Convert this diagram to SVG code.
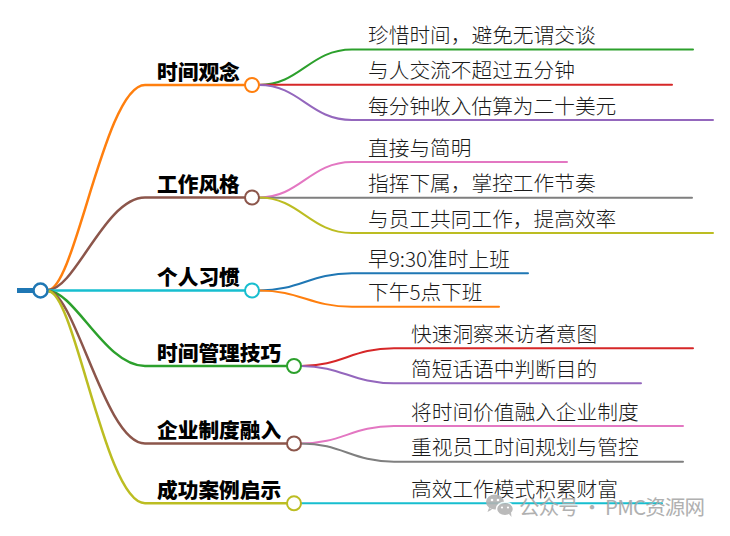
<svg xmlns="http://www.w3.org/2000/svg" width="730" height="536" viewBox="0 0 730 536">
<style>
  .bg { fill: #ffffff; }
  .conn { fill: none; stroke-linecap: round; }
  .main { stroke-width: 2.5; }
  .sub { stroke-width: 2; }
  .node { fill: #ffffff; stroke-width: 2; }
  .cat { font-family: "Noto Sans CJK SC", "Noto Sans", sans-serif; font-size: 20.7px; font-weight: 900; fill: #000000; }
  .leaf { font-family: "Noto Sans CJK SC", "Noto Sans", sans-serif; font-size: 20.7px; font-weight: 300; fill: #1a1a1a; }
  .wm { font-family: "Noto Sans CJK SC", "Noto Sans", sans-serif; font-size: 20.5px; fill: #a8a8a8; }
</style>
<rect class="bg" x="0" y="0" width="730" height="536"/>

<g id="connectors">
  <path class="conn main" stroke="#ff7f0e" d="M48,290 C75,290 105,85 145,85 H252"/>
  <path class="conn main" stroke="#8c564b" d="M48,290 C75,290 105,197.5 145,197.5 H252"/>
  <path class="conn main" stroke="#17becf" d="M48,290.5 H252"/>
  <path class="conn main" stroke="#2ca02c" d="M48,291 C75,291 105,366 145,366 H294"/>
  <path class="conn main" stroke="#8c564b" d="M48,291 C75,291 105,443.5 145,443.5 H294"/>
  <path class="conn main" stroke="#bcbd22" d="M48,291 C75,291 105,503.3 145,503.3 H294"/>

  <path class="conn sub" stroke="#2ca02c" d="M259,85 C300,85 310,49.5 352,49.5 H693"/>
  <path class="conn sub" stroke="#d62728" d="M259,84.7 H672"/>
  <path class="conn sub" stroke="#9467bd" d="M259,85 C300,85 310,120 352,120 H713"/>

  <path class="conn sub" stroke="#e377c2" d="M259,197.5 C300,197.5 310,162 352,162 H567"/>
  <path class="conn sub" stroke="#7f7f7f" d="M259,197.8 H692"/>
  <path class="conn sub" stroke="#bcbd22" d="M259,197.5 C300,197.5 310,233 352,233 H713"/>

  <path class="conn sub" stroke="#1f77b4" d="M259,290.5 C300,290.5 310,273.3 352,273.3 H528"/>
  <path class="conn sub" stroke="#ff7f0e" d="M259,290.5 C300,290.5 310,306.7 352,306.7 H499"/>

  <path class="conn sub" stroke="#d62728" d="M301,366 C342,366 352,348.3 394,348.3 H693"/>
  <path class="conn sub" stroke="#9467bd" d="M301,366 C342,366 352,383.3 394,383.3 H641"/>

  <path class="conn sub" stroke="#e377c2" d="M301,443.5 C342,443.5 352,426 394,426 H683"/>
  <path class="conn sub" stroke="#7f7f7f" d="M301,443.5 C342,443.5 352,461.7 394,461.7 H683"/>

  <path class="conn sub" stroke="#17becf" d="M301,503.3 H662"/>
</g>

<g id="root">
  <line x1="17" y1="290.5" x2="33" y2="290.5" stroke="#1f77b4" stroke-width="5"/>
  <circle cx="40.5" cy="290.5" r="7" fill="#ffffff" stroke="#1f77b4" stroke-width="2.5"/>
</g>

<g id="cat-shijianguannian">
  <text class="cat" x="157" y="79.5">时间观念</text>
  <circle class="node" cx="252" cy="85" r="7" stroke="#ff7f0e"/>
</g>
<g id="cat-gongzuofengge">
  <text class="cat" x="157" y="192">工作风格</text>
  <circle class="node" cx="252" cy="197.5" r="7" stroke="#8c564b"/>
</g>
<g id="cat-gerenxiguan">
  <text class="cat" x="157" y="285">个人习惯</text>
  <circle class="node" cx="252" cy="290.5" r="7" stroke="#17becf"/>
</g>
<g id="cat-shijianguanlijiqiao">
  <text class="cat" x="157" y="360.5">时间管理技巧</text>
  <circle class="node" cx="294" cy="366" r="7" stroke="#2ca02c"/>
</g>
<g id="cat-qiyezhidurongru">
  <text class="cat" x="157" y="438">企业制度融入</text>
  <circle class="node" cx="294" cy="443.5" r="7" stroke="#8c564b"/>
</g>
<g id="cat-chenggonganli">
  <text class="cat" x="157" y="498">成功案例启示</text>
  <circle class="node" cx="294" cy="503.3" r="7" stroke="#bcbd22"/>
</g>

<g id="leaf-1-1"><text class="leaf" x="368" y="43">珍惜时间，避免无谓交谈</text></g>
<g id="leaf-1-2"><text class="leaf" x="368" y="78.3">与人交流不超过五分钟</text></g>
<g id="leaf-1-3"><text class="leaf" x="368" y="113.5">每分钟收入估算为二十美元</text></g>

<g id="leaf-2-1"><text class="leaf" x="368" y="155.5">直接与简明</text></g>
<g id="leaf-2-2"><text class="leaf" x="368" y="191.3">指挥下属，掌控工作节奏</text></g>
<g id="leaf-2-3"><text class="leaf" x="368" y="226.5">与员工共同工作，提高效率</text></g>

<g id="leaf-3-1"><text class="leaf" x="368" y="267">早9:30准时上班</text></g>
<g id="leaf-3-2"><text class="leaf" x="368" y="300.2">下午5点下班</text></g>

<g id="leaf-4-1"><text class="leaf" x="411" y="342">快速洞察来访者意图</text></g>
<g id="leaf-4-2"><text class="leaf" x="411" y="377">简短话语中判断目的</text></g>

<g id="leaf-5-1"><text class="leaf" x="411" y="419.5">将时间价值融入企业制度</text></g>
<g id="leaf-5-2"><text class="leaf" x="411" y="455.2">重视员工时间规划与管控</text></g>

<g id="leaf-6-1"><text class="leaf" x="411" y="496.5">高效工作模式积累财富</text></g>

<g id="watermark" opacity="0.9">
  <ellipse cx="495" cy="502" rx="9" ry="7.5" fill="#b3b3b3"/>
  <path d="M489,508 L487.5,512 L492,509.5 Z" fill="#b3b3b3"/>
  <ellipse cx="505" cy="509" rx="8.5" ry="6.8" fill="#b3b3b3" stroke="#ffffff" stroke-width="1.5"/>
  <path d="M509,514 L511.5,517 L511,512.5 Z" fill="#b3b3b3"/>
  <circle cx="492" cy="500" r="1.3" fill="#ffffff"/>
  <circle cx="498" cy="500" r="1.3" fill="#ffffff"/>
  <circle cx="502" cy="507.5" r="1.1" fill="#ffffff"/>
  <circle cx="508" cy="507.5" r="1.1" fill="#ffffff"/>
  <text class="wm" x="519" y="514.5" textLength="186" lengthAdjust="spacing">公众号 · PMC资源网</text>
</g>
</svg>
